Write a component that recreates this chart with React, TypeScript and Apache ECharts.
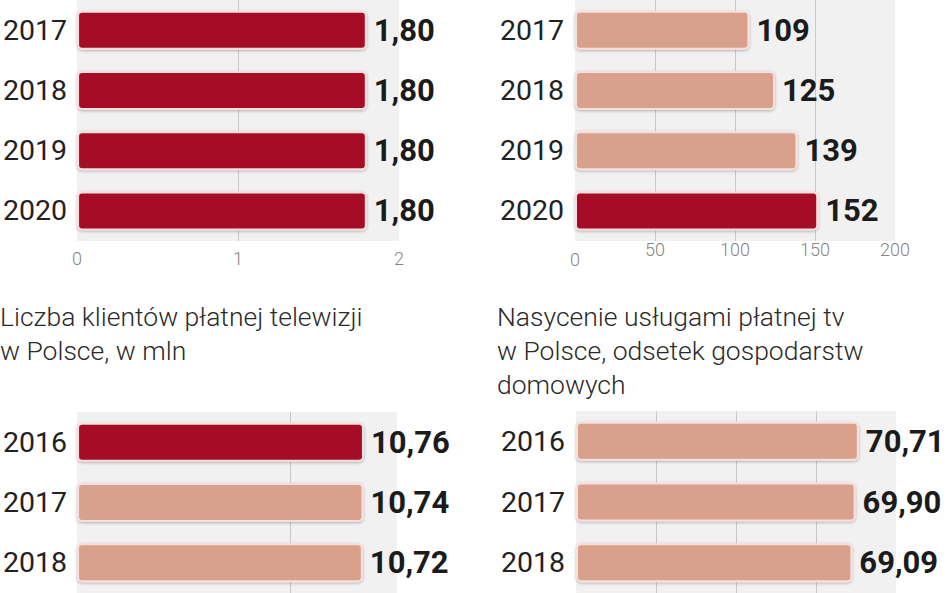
import React, { useEffect, useRef } from 'react';
import * as echarts from 'echarts';

// ---- data ----
const topYears = ['2017', '2018', '2019', '2020'];
const topLeftValues = [1.8, 1.8, 1.8, 1.8];
const topLeftHighlight = [true, true, true, true];
const topRightValues = [109, 125, 139, 152];
const topRightHighlight = [false, false, false, true];

const bottomYears = ['2016', '2017', '2018'];
const bottomLeftValues = [10.76, 10.74, 10.72];
const bottomLeftHighlight = [true, false, false];
const bottomRightValues = [70.71, 69.9, 69.09];
const bottomRightHighlight = [false, false, false];

const topLeftAxis = { min: 0, max: 2, interval: 1 };
const topRightAxis = { min: 0, max: 200, interval: 50 };
const bottomLeftAxis = { min: 0, max: 12, interval: 8 };
const bottomRightAxis = { min: 0, max: 80, interval: 20 };

const titleLeft = 'Liczba klientów płatnej telewizji\nw Polsce, w mln';
const titleRight = 'Nasycenie usługami płatnej tv\nw Polsce, odsetek gospodarstw\ndomowych';

const DARK = '#A50F27';
const LIGHT = '#D9A08B';
const PANEL = '#F1F1F1';

const fmt = (decimals: number) => (p: any) =>
  Number(p.value).toFixed(decimals).replace('.', ',');

export default function App() {
  const ref = useRef<HTMLDivElement>(null);

  useEffect(() => {
    if (!ref.current) return;
    const chart = echarts.init(ref.current, undefined, { renderer: 'svg' });

    const grids = [
      { left: 77, top: -6, width: 322, height: 247 },
      { left: 575, top: -6, width: 320, height: 247 },
      { left: 77, top: 412, width: 320, height: 183 },
      { left: 576, top: 411, width: 320, height: 183 },
    ].map((g) => ({ ...g, show: true, backgroundColor: PANEL, borderWidth: 0, containLabel: false }));

    const axes = [topLeftAxis, topRightAxis, bottomLeftAxis, bottomRightAxis];
    const showLabels = [true, true, false, false];

    const xAxis = axes.map((a, i) => ({
      type: 'value',
      gridIndex: i,
      min: a.min,
      max: a.max,
      interval: a.interval,
      axisLine: { show: false },
      axisTick: { show: false },
      axisLabel: {
        show: showLabels[i],
        fontFamily: 'Roboto',
        fontWeight: 300,
        fontSize: 18,
        color: '#858585',
        margin: i === 1 ? -1 : 8,
        formatter: i === 1 ? (v: number) => (v === 0 ? '{low|0}' : String(v)) : undefined,
        rich: { low: { padding: [10, 0, 0, 0], fontFamily: 'Roboto', fontWeight: 300, fontSize: 18, color: '#858585' } },
      },
      splitLine: {
        show: true,
        showMinLine: false,
        showMaxLine: false,
        lineStyle: { color: '#C9C9C9', width: 1 },
      },
    }));

    const yearSets = [topYears, topYears, bottomYears, bottomYears];
    const yAxis = yearSets.map((years, i) => ({
      type: 'category',
      gridIndex: i,
      data: years,
      inverse: true,
      axisLine: { show: false },
      axisTick: { show: false },
      axisLabel: {
        margin: i % 2 === 0 ? 10 : 11,
        fontFamily: 'Roboto',
        fontSize: 28.5,
        color: '#222',
      },
      splitLine: { show: false },
    }));

    const valueSets = [topLeftValues, topRightValues, bottomLeftValues, bottomRightValues];
    const highlights = [topLeftHighlight, topRightHighlight, bottomLeftHighlight, bottomRightHighlight];
    const decimals = [2, 0, 2, 2];

    const series = valueSets.map((vals, i) => ({
      type: 'bar',
      xAxisIndex: i,
      yAxisIndex: i,
      barWidth: 39,
      data: vals.map((v, j) => ({
        value: v,
        itemStyle: { color: highlights[i][j] ? DARK : LIGHT },
      })),
      itemStyle: {
        borderColor: '#F8DEDC',
        borderWidth: 2,
        borderRadius: 4,
        shadowColor: 'rgba(0,0,0,0.28)',
        shadowBlur: 3,
        shadowOffsetY: 1,
      },
      label: {
        show: true,
        position: 'right',
        distance: 7,
        fontFamily: 'Roboto',
        fontWeight: 'bold',
        fontSize: 31,
        color: '#1b1b1b',
        formatter: fmt(decimals[i]),
      },
    }));

    chart.setOption({
      animation: false,
      backgroundColor: '#ffffff',
      grid: grids,
      xAxis,
      yAxis,
      series,
      graphic: [
        {
          type: 'text',
          left: 0,
          top: 299,
          style: {
            text: titleLeft,
            font: '300 26.5px Roboto',
            lineHeight: 34,
            fill: '#2a2a2a',
          },
        },
        {
          type: 'text',
          left: 497,
          top: 299,
          style: {
            text: titleRight,
            font: '300 26.5px Roboto',
            lineHeight: 34,
            fill: '#2a2a2a',
          },
        },
      ],
    });

    return () => chart.dispose();
  }, []);

  return (
    <div
      ref={ref}
      style={{ position: 'fixed', left: 0, top: 0, width: 948, height: 593 }}
    />
  );
}
